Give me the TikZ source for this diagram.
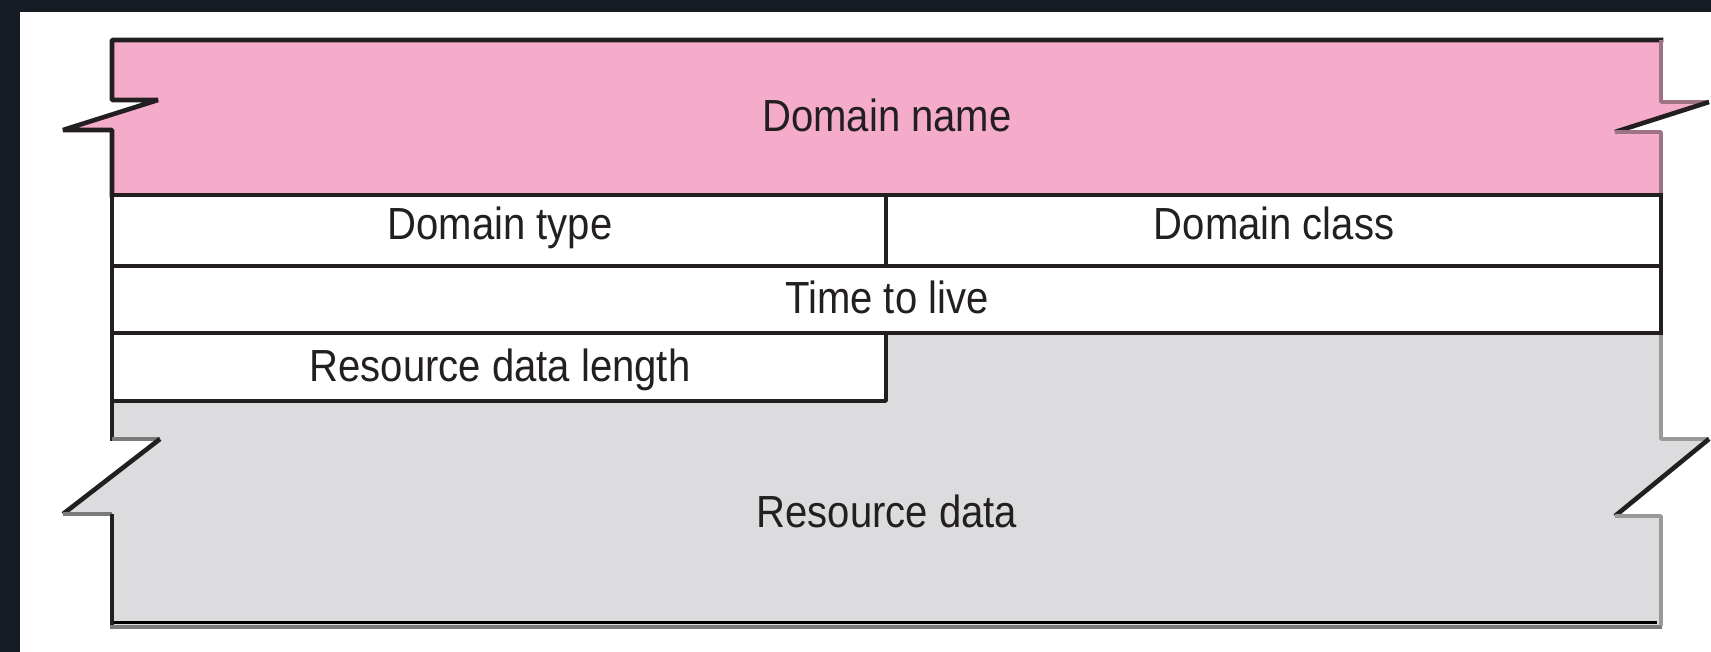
\documentclass[tikz,border=0pt]{standalone}
\usepackage{fontspec}
\setmainfont[FakeStretch=0.89]{Liberation Sans}
\definecolor{frame}{HTML}{171B24}
\definecolor{ink}{HTML}{231F20}
\definecolor{namefill}{HTML}{F5ACCB}
\definecolor{datafill}{HTML}{DCDCDE}
\definecolor{mauve}{HTML}{9E7383}
\definecolor{edgegray}{HTML}{7A7A7A}
\definecolor{sidegray}{HTML}{999999}
\definecolor{shade}{HTML}{C2C2C4}
\begin{document}
\begin{tikzpicture}[x=0.5pt,y=-0.5pt,
  rule/.style={draw=ink,line width=2.3pt,line join=bevel,line cap=rect},
  namerim/.style={draw=mauve,line width=2.3pt,line join=bevel},
  datarim/.style={draw=edgegray,line width=2.3pt,line join=bevel},
  datasides/.style={draw=sidegray,line width=2.3pt,line join=bevel},
  field/.style={anchor=base,inner sep=0pt,text=ink,font=\fontsize{22.5}{26}\selectfont}]
  % page background with dark frame on the top and left
  \fill[frame] (0,0) rectangle (1711,652);
  \fill[white] (20,12) rectangle (1711,652);
  \useasboundingbox (0,0) rectangle (1711,652);

  % Domain name field (variable length, torn edges)
  \fill[namefill] (112,40) -- (1661,40) -- (1661,102) -- (1709,102) -- (1615,132)
    -- (1661,132) -- (1661,195) -- (112,195) -- (112,130) -- (63,130)
    -- (158,100) -- (112,100) -- cycle;

  % Resource data field (variable length, torn edges)
  \fill[datafill] (112,401) -- (886,401) -- (886,333) -- (1661,333) -- (1661,439)
    -- (1709,439) -- (1615,516) -- (1661,516) -- (1661,627) -- (112,627)
    -- (112,514) -- (63,514) -- (160,439) -- (112,439) -- cycle;
  \draw[shade,line width=1.5pt] (114,622) -- (1657,622);

  % outline of the Domain name field
  \draw[rule] (112,195) -- (112,130) -- (63,130) -- (158,100) -- (112,100)
    -- (112,40) -- (1661,40);
  \draw[namerim] (1661,40) -- (1661,102) -- (1709,102);
  \draw[rule,line cap=butt] (1709,102) -- (1615,132);
  \draw[namerim] (1615,132) -- (1661,132) -- (1661,195);

  % fixed-length rows
  \draw[rule] (112,195) -- (1661,195);
  \draw[rule] (112,266) -- (1661,266);
  \draw[rule] (112,333) -- (1661,333);
  \draw[rule] (886,195) -- (886,266);
  \draw[rule] (886,333) -- (886,401) -- (112,401);
  \draw[rule] (112,195) -- (112,401);
  \draw[rule] (1661,195) -- (1661,333);

  % outline of the Resource data field
  \draw[rule] (112,401) -- (112,439);
  \draw[datarim] (112,439) -- (160,439);
  \draw[rule,line cap=butt] (160,439) -- (63,514);
  \draw[datarim] (63,514) -- (112,514);
  \draw[rule,line cap=butt] (112,514) -- (112,626);
  \draw[datarim] (110,627) -- (1662,627);
  \draw[datasides] (1661,335) -- (1661,439) -- (1709,439);
  \draw[rule,line cap=butt] (1709,439) -- (1615,516);
  \draw[datasides] (1615,516) -- (1661,516) -- (1661,626);

  % field labels
  \node[field] (dname)  at (887,132) {Domain name};
  \node[field] (dtype)  at (500,240) {Domain type};
  \node[field] (dclass) at (1274,240) {Domain class};
  \node[field] (ttl)    at (887,313) {Time to live};
  \node[field] (rdlen)  at (500,381) {Resource data length};
  \node[field] (rdata)  at (887,527) {Resource data};
\end{tikzpicture}
\end{document}
